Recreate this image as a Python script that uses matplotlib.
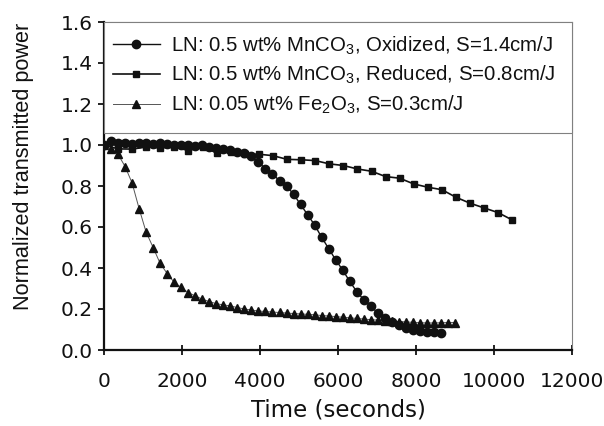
import matplotlib
matplotlib.use("Agg")
import matplotlib.pyplot as plt
from matplotlib.patches import Rectangle
from matplotlib.lines import Line2D

plt.rcParams['font.family'] = ['Liberation Sans', 'DejaVu Sans']
plt.rcParams['mathtext.fontset'] = 'custom'
plt.rcParams['mathtext.rm'] = 'Liberation Sans'
plt.rcParams['mathtext.it'] = 'Liberation Sans:italic'

# ---- data ----
t_ox = [0, 180, 360, 540, 720, 900, 1080, 1260, 1440, 1620, 1800, 1980, 2160, 2340,
        2520, 2700, 2880, 3060, 3240, 3420, 3600, 3780, 3960, 4140, 4320, 4500, 4680,
        4860, 5040, 5220, 5400, 5580, 5760, 5940, 6120, 6300, 6480, 6660, 6840, 7020,
        7200, 7380, 7560, 7740, 7920, 8100, 8280, 8460, 8640]
v_ox = [1.00, 1.02, 1.01, 1.01, 1.005, 1.01, 1.01, 1.005, 1.01, 1.005, 1.0, 1.0, 1.0,
        0.995, 1.0, 0.99, 0.985, 0.98, 0.975, 0.965, 0.96, 0.945, 0.915, 0.885, 0.86,
        0.825, 0.80, 0.76, 0.71, 0.66, 0.61, 0.55, 0.495, 0.44, 0.39, 0.335, 0.285,
        0.245, 0.215, 0.18, 0.155, 0.135, 0.12, 0.105, 0.098, 0.092, 0.09, 0.088, 0.085]

t_red = [0, 361, 722, 1083, 1444, 1805, 2166, 2527, 2888, 3249, 3610, 3971, 4332, 4693,
         5054, 5415, 5776, 6137, 6498, 6859, 7220, 7581, 7942, 8303, 8664, 9025, 9386,
         9747, 10108, 10469]
v_red = [1.0, 0.981, 0.98, 0.99, 0.986, 0.99, 0.973, 0.99, 0.962, 0.965, 0.957, 0.955,
         0.948, 0.93, 0.928, 0.924, 0.908, 0.9, 0.883, 0.872, 0.846, 0.838, 0.81, 0.794,
         0.782, 0.745, 0.716, 0.693, 0.67, 0.634]

t_fe = [0, 180, 360, 540, 720, 900, 1080, 1260, 1440, 1620, 1800, 1980, 2160, 2340,
        2520, 2700, 2880, 3060, 3240, 3420, 3600, 3780, 3960, 4140, 4320, 4500, 4680,
        4860, 5040, 5220, 5400, 5580, 5760, 5940, 6120, 6300, 6480, 6660, 6840, 7020,
        7200, 7380, 7560, 7740, 7920, 8100, 8280, 8460, 8640, 8820, 9000]
v_fe = [1.0, 0.98, 0.955, 0.895, 0.815, 0.69, 0.575, 0.50, 0.422, 0.373, 0.33, 0.305,
        0.28, 0.264, 0.248, 0.236, 0.226, 0.22, 0.215, 0.207, 0.20, 0.195, 0.19, 0.188,
        0.185, 0.183, 0.18, 0.178, 0.176, 0.174, 0.172, 0.168, 0.166, 0.163, 0.16, 0.157,
        0.154, 0.151, 0.148, 0.146, 0.143, 0.141, 0.139, 0.137, 0.135, 0.133, 0.132,
        0.132, 0.133, 0.134, 0.134]

labels = ["LN: 0.5 wt% MnCO$_3$, Oxidized, S=1.4cm/J",
          "LN: 0.5 wt% MnCO$_3$, Reduced, S=0.8cm/J",
          "LN: 0.05 wt% Fe$_2$O$_3$, S=0.3cm/J"]
xticks = [0, 2000, 4000, 6000, 8000, 10000, 12000]
yticks = [0.0, 0.2, 0.4, 0.6, 0.8, 1.0, 1.2, 1.4, 1.6]

# ---- figure ----
fig = plt.figure(figsize=(6.04, 4.26), dpi=100)
ax = fig.add_axes([104/604, 1-350/426, (572-104)/604, (350-22)/426])

ax.plot(t_fe, v_fe, color='#555555', lw=0.7, marker='^', ms=5.2, mfc='#111111',
        mec='#111111', zorder=2)
ax.plot(t_red, v_red, color='#111111', lw=1.2, marker='s', ms=4.2, mfc='#111111',
        mec='#111111', zorder=2)
ax.plot(t_ox, v_ox, color='#111111', lw=1.0, marker='o', ms=6.0, mfc='#111111',
        mec='#111111', zorder=2)

ax.set_xlim(0, 12000)
ax.set_ylim(0, 1.6)
ax.set_xticks(xticks)
ax.set_xticklabels([str(x) for x in xticks], family='DejaVu Sans')
ax.set_yticks(yticks)
ax.set_yticklabels(["%.1f" % y for y in yticks], family='DejaVu Sans')

for s in ['top', 'right']:
    ax.spines[s].set_color('#808080')
    ax.spines[s].set_linewidth(0.8)
for s in ['left', 'bottom']:
    ax.spines[s].set_color('#111111')
    ax.spines[s].set_linewidth(1.6)

ax.tick_params(axis='x', direction='inout', length=7, width=1.3, labelsize=14.5,
               pad=12, colors='#111111')
ax.tick_params(axis='y', direction='out', length=4, width=1.3, labelsize=14.5,
               pad=4, colors='#111111')

ax.set_xlabel("Time (seconds)", fontsize=16.5, family='DejaVu Sans', color='#111111',
              labelpad=6)
ax.set_ylabel("Normalized transmitted power", fontsize=15.6, color='#111111')
ax.yaxis.set_label_coords(-0.15, 0.561)

# legend box
rect = Rectangle((0, 0.6616), 1.0, 1 - 0.6616, transform=ax.transAxes,
                 facecolor='white', edgecolor='#808080', lw=0.8, zorder=3,
                 clip_on=False)
ax.add_patch(rect)

handles = [
    Line2D([], [], color='#111111', lw=1.0, marker='o', ms=6.0),
    Line2D([], [], color='#111111', lw=1.2, marker='s', ms=4.2),
    Line2D([], [], color='#555555', lw=0.7, marker='^', ms=5.2, mfc='#111111',
           mec='#111111'),
]
leg = ax.legend(handles, labels, loc='upper left', bbox_to_anchor=(0.019, 0.962),
                frameon=False, fontsize=14.7, handlelength=2.3, handletextpad=0.57,
                labelspacing=0.36, borderpad=0.0, borderaxespad=0.0)
leg.set_zorder(4)
for txt in leg.get_texts():
    txt.set_color('#111111')

fig.savefig("out.png", dpi=100)
